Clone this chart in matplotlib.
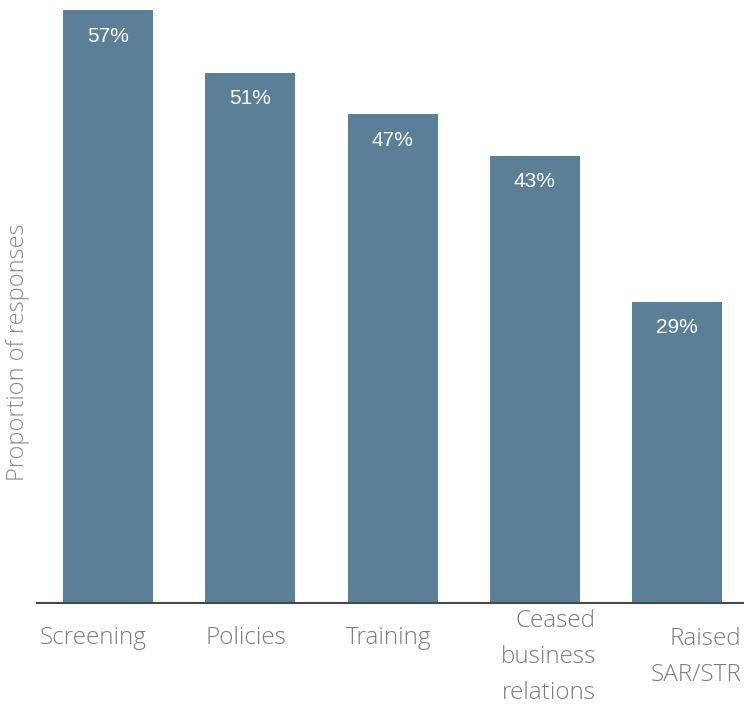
import matplotlib.pyplot as plt
from matplotlib import font_manager

categories = ['Screening', 'Policies', 'Training', 'Ceased\nbusiness\nrelations', 'Raised\nSAR/STR']
values = [57, 51, 47, 43, 29]
value_labels = ['57%', '51%', '47%', '43%', '29%']

# offsets of the category labels (pixels) from the bar centre, and alignment
label_dx = [-15, -4, -4, 61, 64]
label_dy = [-35, -35, -35, -54, -54]
label_ha = ['center', 'center', 'center', 'right', 'right']

bar_color = '#5b7f97'
text_gray = '#7b7b7b'

names = {f.name for f in font_manager.fontManager.ttflist}
label_font = 'Open Sans' if 'Open Sans' in names else 'DejaVu Sans'

W, H, DPI = 744, 706, 100
fig = plt.figure(figsize=(W / DPI, H / DPI), dpi=DPI)
ax = fig.add_axes([37 / W, 103 / H, (744 - 37) / W, 603 / H])

x = list(range(len(values)))
bars = ax.bar(x, values, width=0.632, color=bar_color, zorder=2)
ax.set_xlim(-0.5, 4.47)
ax.set_ylim(0, 58.0)

# percentage inside the top of each bar
for b, lab in zip(bars, value_labels):
    ax.annotate(lab, xy=(b.get_x() + b.get_width() / 2, b.get_height()),
                xytext=(0, -26 * 0.72), textcoords='offset points',
                ha='center', va='center', color='white', fontsize=15,
                family=['Liberation Sans', 'DejaVu Sans'])

# category labels under the axis
px = 72 / DPI
for i, cat in enumerate(categories):
    ax.annotate(cat, xy=(i, 0), xycoords=('data', 'axes fraction'),
                xytext=(label_dx[i] * px, label_dy[i] * px), textcoords='offset points',
                ha=label_ha[i], va='center', multialignment='right',
                linespacing=1.65, color=text_gray, fontsize=17.5,
                family=[label_font, 'DejaVu Sans'], fontweight='light',
                annotation_clip=False)

fig.text(18 / W, 1 - 352 / H, 'Proportion of responses', rotation=90,
         ha='center', va='center', color='#8a8a8a', fontsize=17,
         family=[label_font, 'DejaVu Sans'], fontweight='light')

for side in ['top', 'right', 'left']:
    ax.spines[side].set_visible(False)
ax.spines['bottom'].set_color('#474747')
ax.spines['bottom'].set_linewidth(1.5)
ax.set_xticks([])
ax.set_yticks([])

fig.savefig('out.png', dpi=DPI)
